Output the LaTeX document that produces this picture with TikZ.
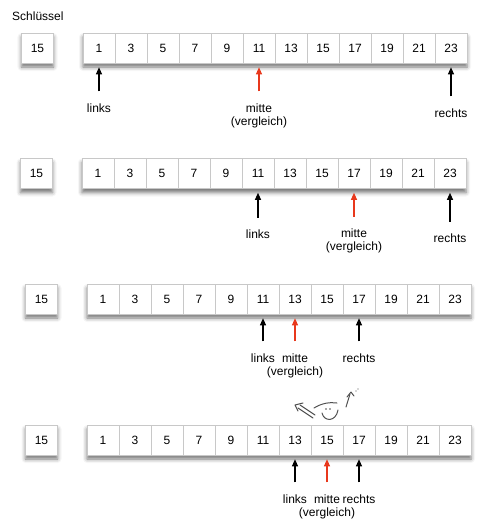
\documentclass[tikz,border=0pt]{standalone}
\usepackage{fontspec}
\setmainfont{Liberation Sans}
\usetikzlibrary{positioning,arrows.meta,shadows.blur}
\definecolor{zeigerrot}{RGB}{232,56,28}
\definecolor{zellrand}{RGB}{200,200,200}
\definecolor{kritzelgrau}{RGB}{80,80,80}
\tikzset{
  zelle/.style={draw=zellrand, fill=white, line width=0.6pt, minimum width=32pt,
    minimum height=30pt, inner sep=0pt, font=\fontsize{12}{14}\selectfont},
  schatten/.style={fill=white, inner sep=0pt, blur shadow={shadow xshift=0pt,
    shadow yshift=-4pt, shadow blur radius=4pt, shadow opacity=55}},
  zeiger/.style={-{Triangle[length=7pt,width=6pt]}, line width=1.1pt,
    shorten <=12pt, shorten >=4pt},
  marke/.style={inner sep=0pt, align=center, font=\fontsize{12}{13}\selectfont},
  kritzel/.style={kritzelgrau, line width=1pt, line cap=round, line join=round}
}
\begin{document}
\begin{tikzpicture}[x=1pt, y=-1pt]
\useasboundingbox (0,0) rectangle (491,528);
\node[marke, anchor=base west] (titel) at (12,20) {Schlüssel};
% key box and sorted array, four steps
\foreach \r/\kx/\ax/\y in {1/37.5/83/48, 2/36.5/82/173.5, 3/41.5/87/299, 4/41.5/87/440} {
  \node[zelle, schatten, draw=zellrand] (k\r) at (\kx,\y) {15};
  \node[schatten, minimum width=384pt, minimum height=30pt] (feld\r) at (\ax+192,\y) {};
  \foreach \w [count=\i] in {1,3,...,23}
    \node[zelle] (z\r-\i) at (\ax+16+32*\i-32,\y) {\w};
}

% step 1
\node[marke, below=40pt of z1-1] (links1) {links};
\node[marke, below=40pt of z1-6] (mitte1) {mitte\\(vergleich)};
\node[marke, below=45pt of z1-12] (rechts1) {rechts};
\draw[zeiger] (links1.north) -- (z1-1.south);
\draw[zeiger, zeigerrot] (mitte1.north) -- (z1-6.south);
\draw[zeiger] (rechts1.north) -- (z1-12.south);

% step 2
\node[marke, below=41pt of z2-6] (links2) {links};
\node[marke, below=40pt of z2-9] (mitte2) {mitte\\(vergleich)};
\node[marke, below=45pt of z2-12] (rechts2) {rechts};
\draw[zeiger] (links2.north) -- (z2-6.south);
\draw[zeiger, zeigerrot] (mitte2.north) -- (z2-9.south);
\draw[zeiger] (rechts2.north) -- (z2-12.south);

% step 3
\node[marke, below=39pt of z3-6] (links3) {links};
\node[marke, below=39pt of z3-7] (mitte3) {mitte\\(vergleich)};
\node[marke, below=39pt of z3-9] (rechts3) {rechts};
\draw[zeiger] (links3.north) -- (z3-6.south);
\draw[zeiger, zeigerrot] (mitte3.north) -- (z3-7.south);
\draw[zeiger] (rechts3.north) -- (z3-9.south);

% step 4
\node[marke, below=39pt of z4-7] (links4) {links};
\node[marke, below=39pt of z4-8] (mitte4) {mitte\\(vergleich)};
\node[marke, below=39pt of z4-9] (rechts4) {rechts};
\draw[zeiger] (links4.north) -- (z4-7.south);
\draw[zeiger, zeigerrot] (mitte4.north) -- (z4-8.south);
\draw[zeiger] (rechts4.north) -- (z4-9.south);

% doodle
\draw[kritzel] (313,418) -- (298,408);
\draw[kritzel] (315,415) -- (300,405);
\draw[kritzel] (303,403) -- (295,405) -- (298,411);
\draw[kritzel] (314,408) .. controls (322,403) and (330,402) .. (337,403);
\fill[kritzelgrau] (326,409) circle (0.8) (330,409) circle (0.8);
\draw[kritzel] (322,413) .. controls (324,422) and (336,422) .. (338,410);
\draw[kritzel] (346,407) -- (350,394);
\draw[kritzel] (347,397) -- (351,392) -- (354,396);
\fill[kritzelgrau] (356,391) circle (0.6) (358,389) circle (0.6);
\end{tikzpicture}
\end{document}
